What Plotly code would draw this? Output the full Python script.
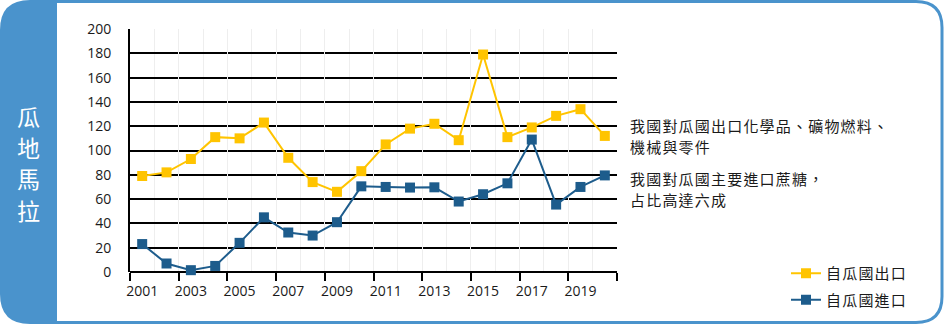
import plotly.graph_objects as go

years = list(range(2001, 2021))
export_vals = [79, 82, 93, 111, 110, 123, 94, 74, 66, 83,
               105, 118, 122, 108.5, 179, 111, 119, 128.5, 134, 112]
import_vals = [23, 7, 1.5, 5, 24, 45, 32.5, 30, 41, 70.5,
               70, 69.5, 69.7, 58, 64, 73, 109, 55.5, 70, 79.5]
tick_years = [2001, 2003, 2005, 2007, 2009, 2011, 2013, 2015, 2017, 2019]
tick_labels = [str(y) for y in tick_years]
series_names = ["自瓜國出口", "自瓜國進口"]
title_chars = ["瓜", "地", "馬", "拉"]
note_lines = ["我國對瓜國出口化學品、礦物燃料、", "機械與零件",
              "我國對瓜國主要進口蔗糖，", "占比高達六成"]

YELLOW = "#FFC400"
BLUE = "#1D5C8C"
FRAME = "#4A93CC"
TXT = "#1a1a1a"
NUM_FONT = "Open Sans"
CJK_FONT = "Noto Sans CJK TC"

W, H = 944, 324
L, R, T, B = 130, 617, 29, 272


def px(x):
    return (x - L) / (R - L)


def py(y):
    return (B - y) / (B - T)


def sp(text, ls=1.2):
    return f'<span style="letter-spacing:{ls}px">{text}</span>'


fig = go.Figure()
fig.add_trace(go.Scatter(
    x=years, y=export_vals, mode="lines+markers", name=sp(series_names[0]),
    line=dict(color=YELLOW, width=2),
    marker=dict(symbol="square", size=10, color=YELLOW),
    cliponaxis=False, legendgroup="a"))
fig.add_trace(go.Scatter(
    x=years, y=import_vals, mode="lines+markers", name=sp(series_names[1]),
    line=dict(color=BLUE, width=2),
    marker=dict(symbol="square", size=10, color=BLUE),
    cliponaxis=False, legendgroup="b"))
# helper trace so the boundary tick axis is drawn
fig.add_trace(go.Scatter(x=[2000.5], y=[0], xaxis="x2", mode="markers",
                         marker=dict(opacity=0), showlegend=False,
                         hoverinfo="skip"))

# frame shapes
r = 26
outer = (f"M {px(57)},{py(1.5)} L {px(942 - r)},{py(1.5)} "
         f"Q {px(942)},{py(1.5)} {px(942)},{py(1.5 + r)} "
         f"L {px(942)},{py(322.5 - r)} "
         f"Q {px(942)},{py(322.5)} {px(942 - r)},{py(322.5)} "
         f"L {px(57)},{py(322.5)}")
rl = 30
panel = (f"M {px(rl)},{py(0)} L {px(57)},{py(0)} L {px(57)},{py(324)} "
         f"L {px(rl)},{py(324)} Q {px(0)},{py(324)} {px(0)},{py(324 - rl)} "
         f"L {px(0)},{py(rl)} Q {px(0)},{py(0)} {px(rl)},{py(0)} Z")
shapes = [
    dict(type="path", xref="paper", yref="paper", path=outer,
         line=dict(color=FRAME, width=3), layer="below"),
    dict(type="path", xref="paper", yref="paper", path=panel,
         fillcolor=FRAME, line=dict(width=0), layer="below"),
]

annotations = []
for ch, yc in zip(title_chars, [115.5, 147, 178.5, 210]):
    annotations.append(dict(
        text=ch, x=px(28), y=py(yc), xref="paper", yref="paper",
        xanchor="center", yanchor="middle", showarrow=False, borderpad=0,
        font=dict(family=CJK_FONT, size=23, color="white")))
for line, yc in zip(note_lines, [125, 146.5, 178, 199.5]):
    annotations.append(dict(
        text=sp(line), x=px(628), y=py(yc), xref="paper", yref="paper",
        xanchor="left", yanchor="middle", showarrow=False,
        font=dict(family=CJK_FONT, size=15, color=TXT)))

fig.update_layout(
    width=W, height=H,
    margin=dict(l=L, r=W - R, t=T, b=H - B, autoexpand=False),
    paper_bgcolor="white", plot_bgcolor="white",
    showlegend=True,
    legend=dict(x=px(786), y=py(257), xanchor="left", yanchor="top",
                traceorder="grouped", tracegroupgap=4,
                font=dict(family=CJK_FONT, size=15, color=TXT),
                bgcolor="rgba(0,0,0,0)", borderwidth=0,
                itemwidth=30),
    xaxis=dict(range=[2000.5, 2020.5], tickmode="array",
               tickvals=tick_years, ticktext=tick_labels,
               ticks="", showgrid=False, showline=False, zeroline=False,
               ticklabelstandoff=9,
               tickfont=dict(family=NUM_FONT, size=14, color=TXT)),
    xaxis2=dict(range=[2000.5, 2020.5], overlaying="x", anchor="y",
                tickmode="array",
                tickvals=[2000.5 + 2 * i for i in range(11)],
                ticks="outside", ticklen=8, tickwidth=2, tickcolor="black",
                showticklabels=False, showgrid=True, gridcolor="#eeeeee",
                gridwidth=1, zeroline=False, showline=False,
                minor=dict(tickmode="linear", tick0=0.5, dtick=1,
                           showgrid=True, gridcolor="#eeeeee", gridwidth=1,
                           ticks="")),
    yaxis=dict(range=[0, 200], tickmode="linear", tick0=0, dtick=20,
               showgrid=True, gridcolor="black", gridwidth=2,
               showline=True, linecolor="black", linewidth=2,
               zeroline=True, zerolinecolor="black", zerolinewidth=2,
               ticks="", ticklabelstandoff=14,
               tickfont=dict(family=NUM_FONT, size=14, color=TXT)),
    shapes=shapes, annotations=annotations,
    hovermode=False,
)

fig.write_html("out.html")
